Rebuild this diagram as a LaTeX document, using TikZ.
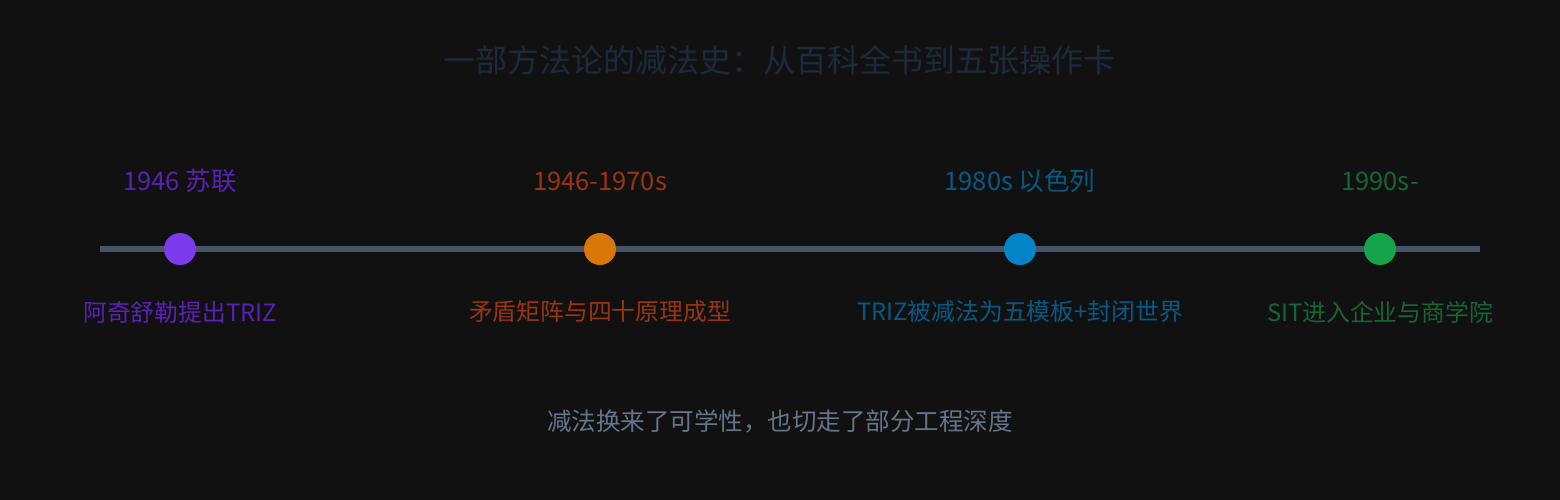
\documentclass[tikz,border=0pt]{standalone}
\usepackage{fontspec}
\setmainfont{Noto Sans CJK SC}
\newfontfamily\cjk{Noto Sans CJK SC}
\definecolor{bgc}{HTML}{111111}
\definecolor{titlec}{HTML}{1E293B}
\definecolor{linec}{HTML}{475569}
\definecolor{capc}{HTML}{64748B}
\definecolor{pdot}{HTML}{7C3AED}
\definecolor{ptxt}{HTML}{5B21B6}
\definecolor{odot}{HTML}{D97706}
\definecolor{otxt}{HTML}{9A3412}
\definecolor{bdot}{HTML}{0284C7}
\definecolor{btxt}{HTML}{075985}
\definecolor{gdot}{HTML}{16A34A}
\definecolor{gtxt}{HTML}{166534}
\begin{document}
\begin{tikzpicture}[x=1pt,y=-1pt,
  dotnode/.style={circle,inner sep=0pt,minimum size=32pt},
  yearlbl/.style={inner sep=0pt,font=\fontsize{25.5}{30}\selectfont,anchor=center},
  desclbl/.style={inner sep=0pt,font=\fontsize{23.8}{28}\selectfont,anchor=center}]
\fill[bgc] (0,0) rectangle (1560,500);
\useasboundingbox (0,0) rectangle (1560,500);
\node[inner sep=0pt,text=titlec,font=\fontsize{32}{38}\selectfont] (title) at (779,60) {一部方法论的减法史：从百科全书到五张操作卡};
\coordinate (ls) at (100,249);
\coordinate (le) at (1480,249);
\draw[linec,line width=6pt] (ls) -- (le);
\node[dotnode,fill=pdot] (d1) at (180,249) {};
\node[dotnode,fill=odot] (d2) at (600,249) {};
\node[dotnode,fill=bdot] (d3) at (1020,249) {};
\node[dotnode,fill=gdot] (d4) at (1380,249) {};
\node[yearlbl,text=ptxt] (y1) at (180,181) {1946 苏联};
\node[yearlbl,text=otxt] (y2) at (600,181) {1946-1970s};
\node[yearlbl,text=btxt] (y3) at (1020,181) {1980s 以色列};
\node[yearlbl,text=gtxt] (y4) at (1380,181) {1990s-};
\node[desclbl,text=ptxt] (t1) at (180,312) {阿奇舒勒提出TRIZ};
\node[desclbl,text=otxt] (t2) at (600,312) {矛盾矩阵与四十原理成型};
\node[desclbl,text=btxt] (t3) at (1020,312) {TRIZ被减法为五模板+封闭世界};
\node[desclbl,text=gtxt] (t4) at (1380,312) {SIT进入企业与商学院};
\node[inner sep=0pt,text=capc,font=\fontsize{24.5}{30}\selectfont] (cap) at (780,421) {减法换来了可学性，也切走了部分工程深度};
\end{tikzpicture}
\end{document}
